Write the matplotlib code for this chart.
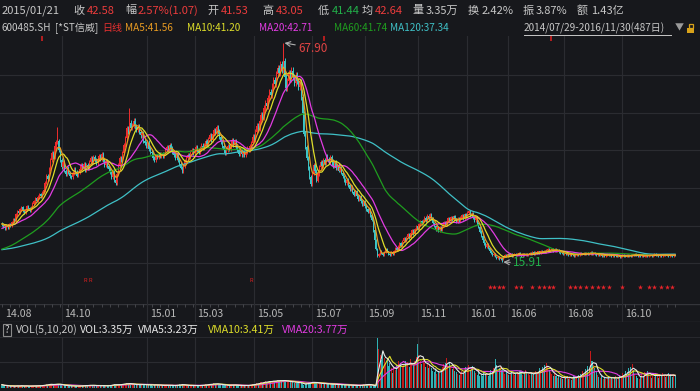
import numpy as np
import pandas as pd
import matplotlib
matplotlib.use("Agg")
import matplotlib.pyplot as plt
from matplotlib.path import Path
from matplotlib.patches import Rectangle
from matplotlib.lines import Line2D

plt.rcParams['font.family'] = ['Noto Sans CJK SC', 'DejaVu Sans']

# ---- data (600485 daily, 2014/07/29 - 2016/11/30, 487 bars) ----
# closes of the 120 days before the first bar, only used to seed the MAs
pre_close = [
    18.5, 18.8, 18.6, 19.0, 18.7, 18.9, 19.2, 18.8, 18.6, 18.4,
    18.7, 18.9, 19.1, 18.8, 18.5, 18.3, 18.6, 18.9, 19.3, 19.0,
    18.7, 18.4, 18.6, 18.8, 19.1, 18.9, 18.6, 18.8, 19.0, 18.7,
    18.5, 18.8, 18.6, 18.4, 18.7, 18.9, 18.6, 18.5, 18.8, 18.6,
    18.4, 18.7, 18.9, 18.6, 18.8, 18.5, 18.7, 18.9, 18.6, 18.4,
    18.6, 18.8, 18.5, 18.7, 18.9, 18.6, 18.8, 18.5, 18.7, 18.6,
    18.2, 17.8, 17.4, 17.0, 16.7, 16.4, 16.1, 15.9, 15.7, 15.8,
    15.6, 15.9, 16.1, 15.8, 15.6, 15.9, 16.2, 16.0, 15.8, 16.1,
    16.3, 16.0, 15.8, 16.1, 16.4, 16.2, 16.0, 16.3, 16.5, 16.2,
    16.4, 16.7, 16.5, 16.8, 17.1, 16.9, 17.2, 17.6, 17.9, 18.3,
    19.5, 20.2, 21.0, 21.8, 22.3, 22.9, 23.2, 23.8, 24.1, 24.5,
    24.2, 24.8, 25.1, 24.6, 25.0, 25.3, 24.9, 25.2, 24.7, 25.0,
]

close = [
    24.8, 24.2, 23.9, 24.5, 24.1, 24.9, 24.6, 25.4, 26.1, 25.8,
    27.2, 28.0, 27.5, 28.4, 28.9, 28.1, 27.6, 28.3, 29.1, 28.6,
    28.0, 28.8, 29.7, 30.3, 31.0, 30.4, 31.3, 32.0, 31.5, 32.3,
    33.0, 34.7, 36.3, 35.6, 38.0, 40.1, 41.7, 40.8, 43.3, 44.4,
    44.6, 42.5, 40.1, 38.4, 39.5, 37.6, 36.8, 38.2, 37.1, 36.2,
    36.1, 37.0, 37.9, 37.3, 36.4, 37.1, 38.0, 38.9, 38.3, 39.2,
    37.6, 38.8, 38.1, 39.7, 40.5, 39.6, 40.9, 40.1, 39.3, 40.4,
    41.1, 40.3, 41.4, 40.2, 39.0, 39.8, 38.7, 37.9, 37.1, 36.0,
    37.2, 35.4, 34.6, 36.8, 38.9, 40.6, 40.2, 41.8, 43.6, 45.3,
    47.6, 46.8, 48.9, 47.7, 48.3, 49.4, 48.1, 47.2, 48.0, 46.8,
    45.9, 46.4, 44.7, 44.1, 43.5, 44.2, 42.8, 42.1, 41.7, 40.6,
    40.2, 41.1, 40.9, 41.4, 41.0, 41.6, 41.11, 41.51, 42.58, 43.1,
    42.4, 43.6, 42.8, 42.0, 41.3, 40.6, 41.5, 40.2, 39.1, 38.3,
    37.5, 38.6, 39.8, 40.5, 41.3, 40.7, 41.9, 42.4, 41.8, 42.6,
    43.1, 42.5, 41.9, 42.8, 43.5, 42.9, 43.7, 44.6, 43.8, 45.1,
    45.9, 44.8, 46.3, 47.2, 46.5, 47.8, 46.9, 45.6, 44.3, 43.5,
    42.4, 41.8, 42.6, 43.4, 42.7, 43.9, 44.8, 43.6, 44.5, 43.2,
    42.5, 41.6, 42.3, 41.4, 42.0, 41.2, 42.1, 43.0, 42.4, 43.3,
    44.1, 45.6, 45.0, 46.8, 48.2, 47.5, 49.3, 50.8, 50.1, 52.4,
    53.6, 52.8, 54.9, 56.3, 55.4, 57.6, 59.1, 58.2, 60.4, 61.8,
    60.7, 62.9, 61.5, 63.6, 59.8, 57.2, 58.9, 60.6, 59.4, 61.3,
    59.7, 58.3, 60.2, 58.9, 57.4, 58.6, 55.0, 51.2, 46.3, 43.1,
    40.6, 38.2, 36.0, 34.4, 36.9, 38.8, 37.5, 35.2, 36.8, 38.5,
    39.6, 38.7, 40.2, 39.4, 41.1, 40.3, 39.5, 40.8, 39.9, 38.7,
    39.5, 38.2, 38.9, 37.6, 38.3, 37.1, 36.2, 35.4, 34.6, 35.3,
    34.1, 33.2, 33.8, 32.6, 31.9, 32.7, 31.5, 30.8, 31.4, 30.3,
    29.6, 30.2, 29.1, 28.4, 27.8, 28.3, 27.0, 25.9, 23.4, 21.1,
    19.0, 17.4, 17.9, 18.6, 18.1, 17.6, 18.2, 18.9, 18.4, 17.9,
    17.6, 18.3, 17.9, 18.5, 19.2, 18.7, 19.6, 20.4, 19.8, 20.9,
    21.6, 20.8, 21.9, 22.5, 21.7, 22.8, 23.4, 22.6, 23.8, 24.5,
    23.7, 24.8, 25.6, 24.9, 25.8, 26.4, 25.7, 26.9, 26.2, 27.1,
    26.3, 25.2, 24.5, 23.6, 24.2, 23.4, 24.1, 23.5, 24.6, 25.3,
    24.8, 25.7, 26.3, 25.6, 26.5, 25.9, 26.8, 26.1, 25.4, 26.2,
    25.6, 26.4, 27.0, 26.3, 27.3, 26.6, 27.6, 27.9, 26.8, 27.4,
    26.5, 25.8, 26.4, 25.1, 24.2, 23.1, 22.0, 21.2, 20.3, 19.5,
    20.1, 19.2, 18.6, 18.1, 17.5, 17.9, 17.2, 16.8, 17.1, 16.6,
    16.9, 16.5, 17.2, 17.6, 17.3, 17.9, 17.5, 17.8, 17.4, 17.7,
    17.9, 17.5, 17.8, 18.1, 17.7, 17.4, 17.8, 17.6, 17.9, 17.5,
    17.7, 18.0, 17.8, 18.2, 17.9, 18.3, 18.0, 18.4, 18.1, 18.5,
    18.2, 18.6, 18.3, 18.7, 18.9, 18.5, 18.8, 19.0, 18.6, 18.9,
    18.5, 18.7, 18.3, 18.0, 18.2, 17.8, 18.1, 17.7, 17.9, 17.6,
    17.8, 17.5, 17.7, 17.4, 17.6, 17.9, 17.6, 18.0, 17.7, 17.9,
    18.1, 17.8, 18.0, 17.7, 17.9, 18.2, 17.9, 18.1, 17.8, 17.6,
    17.8, 17.5, 17.7, 17.4, 17.6, 17.3, 17.5, 17.8, 17.5, 17.7,
    17.4, 17.6, 17.3, 17.5, 17.2, 17.4, 17.1, 17.3, 17.6, 17.4,
    17.2, 17.5, 17.3, 17.6, 17.4, 17.7, 17.5, 17.8, 17.6, 17.4,
    17.6, 17.3, 17.5, 17.2, 17.4, 17.6, 17.3, 17.5, 17.7, 17.4,
    17.6, 17.8, 17.5, 17.7, 17.4, 17.6, 17.3, 17.5, 17.7, 17.5,
    17.6, 17.4, 17.7, 17.5, 17.3, 17.6, 17.5,
]

# volume in 万
volume = [
    4.2, 3.1, 2.6, 2.9, 2.2, 2.5, 1.9, 2.4, 2.8, 2.1,
    2.6, 3.0, 2.3, 2.7, 3.2, 2.4, 2.0, 2.5, 2.9, 2.2,
    1.8, 2.3, 2.7, 3.1, 2.6, 2.2, 2.9, 3.4, 2.8, 3.2,
    3.6, 4.1, 4.8, 3.9, 4.5, 5.2, 4.6, 3.8, 4.4, 5.0,
    5.6, 4.7, 3.9, 3.4, 3.0, 3.5, 2.8, 3.2, 2.6, 2.3,
    2.1, 2.5, 2.8, 2.4, 2.0, 2.3, 2.7, 3.1, 2.6, 2.9,
    3.2, 3.6, 2.9, 3.4, 3.8, 3.1, 3.5, 2.8, 2.6, 3.0,
    3.3, 2.7, 3.1, 2.6, 2.9, 2.4, 2.8, 3.2, 3.5, 3.9,
    4.3, 4.8, 4.1, 3.6, 3.9, 4.4, 4.9, 5.3, 4.7, 5.6,
    6.1, 5.2, 5.8, 4.9, 4.4, 4.8, 4.1, 3.7, 4.2, 4.5,
    4.2, 4.6, 4.0, 4.3, 3.8, 4.1, 3.6, 3.9, 4.3, 3.0,
    3.8, 4.1, 3.6, 3.45, 3.1, 3.5, 2.9, 3.3, 3.35, 3.6,
    3.2, 2.9, 3.4, 3.1, 2.7, 3.0, 3.5, 3.9, 4.4, 4.1,
    4.6, 3.8, 3.4, 3.1, 2.8, 3.2, 2.9, 3.3, 2.7, 3.0,
    3.4, 3.1, 2.8, 3.2, 3.6, 3.3, 3.9, 4.4, 3.8, 4.7,
    5.3, 4.6, 5.1, 5.8, 4.9, 5.5, 4.7, 4.2, 4.6, 3.9,
    3.6, 3.3, 3.0, 3.4, 3.1, 3.7, 4.0, 3.5, 3.8, 3.2,
    3.0, 3.4, 2.9, 3.1, 2.7, 3.0, 3.3, 3.6, 3.2, 3.5,
    4.2, 4.8, 4.4, 5.3, 6.0, 5.4, 6.3, 7.1, 6.5, 7.6,
    8.2, 7.4, 8.0, 8.8, 7.9, 8.5, 9.3, 8.4, 9.0, 9.8,
    8.9, 9.5, 8.6, 10.4, 9.2, 8.5, 7.8, 8.3, 7.6, 8.1,
    7.4, 6.8, 7.2, 6.5, 6.9, 6.2, 5.8, 4.6, 3.9, 4.8,
    6.4, 7.2, 6.6, 5.9, 8.1, 7.5, 6.8, 6.1, 5.6, 6.3,
    5.8, 5.2, 5.7, 5.0, 5.4, 4.8, 5.1, 4.6, 4.9, 4.4,
    4.7, 4.2, 4.5, 4.0, 4.3, 3.8, 4.1, 3.6, 3.9, 3.4,
    3.7, 3.3, 3.6, 3.1, 3.4, 3.0, 3.3, 2.9, 3.2, 3.5,
    4.1, 4.6, 3.9, 4.4, 5.0, 4.3, 3.6, 2.8, 2.2, 1.9,
    2.5, 62.0, 48.5, 41.2, 35.6, 44.8, 38.1, 31.5, 36.2, 27.4,
    30.8, 24.6, 19.3, 26.1, 22.4, 28.7, 33.5, 27.2, 31.6, 25.8,
    29.4, 34.2, 27.6, 31.9, 26.3, 35.8, 30.2, 28.4, 33.7, 38.5,
    54.6, 41.3, 33.8, 29.5, 36.2, 31.4, 26.8, 30.5, 24.9, 28.3,
    25.1, 21.7, 19.4, 23.2, 17.6, 20.8, 18.3, 22.5, 26.4, 29.7,
    31.2, 37.4, 28.6, 33.1, 27.5, 24.2, 26.9, 21.8, 19.6, 17.2,
    15.8, 18.4, 21.3, 19.1, 23.6, 26.8, 24.1, 28.5, 22.7, 25.9,
    27.3, 21.5, 18.2, 16.4, 19.7, 15.3, 17.8, 14.6, 20.2, 16.9,
    18.5, 15.2, 17.4, 22.8, 19.6, 25.3, 36.8, 28.4, 21.7, 24.5,
    26.3, 22.1, 19.4, 17.6, 20.3, 18.1, 16.5, 19.2, 21.6, 17.8,
    15.9, 18.7, 20.4, 17.3, 21.5, 19.8, 16.2, 18.6, 22.3, 20.1,
    17.5, 15.8, 19.3, 16.6, 18.9, 21.2, 17.4, 20.6, 24.8, 22.3,
    26.1, 23.5, 28.9, 31.4, 25.7, 22.6, 19.8, 17.3, 15.6, 18.2,
    14.5, 12.8, 16.3, 11.9, 13.6, 10.8, 14.2, 12.5, 15.4, 11.3,
    13.7, 10.5, 12.9, 15.6, 11.8, 14.3, 16.7, 13.2, 17.9, 21.4,
    18.6, 24.3, 19.8, 27.5, 22.1, 45.8, 33.6, 29.2, 24.7, 19.5,
    16.8, 14.2, 12.6, 15.1, 11.4, 13.8, 10.9, 12.7, 15.3, 11.6,
    13.9, 10.7, 12.4, 14.8, 11.2, 13.5, 16.2, 12.9, 18.4, 15.7,
    21.3, 17.6, 24.5, 19.8, 26.2, 30.6, 22.4, 17.9, 14.6, 12.3,
    11.8, 14.5, 17.2, 13.6, 19.8, 16.4, 21.5, 18.2, 15.6, 13.1,
    16.9, 14.3, 18.6, 15.2, 12.7, 17.4, 14.8, 19.3, 16.1, 13.5,
    15.8, 18.4, 14.6, 17.2, 13.9, 16.5, 15.1,
]

# bars whose open/high/low were read exactly (index: open, high, low)
known_bars = {118: (41.53, 43.05, 41.44)}
wick_highs = {40: 48.0, 92: 52.5, 203: 67.90}
wick_lows = {361: 15.91}
peak_idx, low_idx = 203, 361

# month labels and the bar index where each starts
month_labels = ['14.08', '14.10', '15.01', '15.03', '15.05', '15.07',
                '15.09', '15.11', '16.01', '16.06', '16.08', '16.10']
month_idx = [0, 43, 105, 139, 182, 224, 262, 300, 336, 365, 406, 448]

info_idx = [27, 230, 394]          # red corner flags at the top
r_idx = [60, 64, 180]              # "R" marks
star_idx = [352, 355, 359, 362, 371, 375, 383, 388, 391, 395, 398, 410, 414,
            417, 422, 426, 430, 434, 438, 448, 461, 467, 471, 476, 480, 484]

# ---- style ----
BG = '#17181c'
GRID = '#2b2c31'
UP = '#ee2d2d'
DOWN = '#3cc6c8'
VUP = '#c41a1a'
VDOWN = '#2fb2b4'
TXT = '#c8c8c8'
RED = '#ec3c3c'
GREEN = '#22b04a'
C_MA5, C_MA10, C_MA20, C_MA60, C_MA120 = '#e89b22', '#dede2a', '#e23ce2', '#1f9e1f', '#3fc0c6'

W, H = 700, 391
fig = plt.figure(figsize=(W / 100, H / 100), dpi=100, facecolor=BG)


def fx(px):
    return px / W


def fy(py):
    return 1 - py / H


def price_at(py):
    # pixel row -> price on the main panel (linear scale)
    return 67.90 - (py - 42.7) / 4.218


def idx_at(px):
    return (px - 2) / 1.385


close_a = np.array(close)
vol_a = np.array(volume)
n = len(close_a)
assert n == len(vol_a)
idx = np.arange(n)
open_a = np.concatenate([[pre_close[-1]], close_a[:-1]])
high_a = np.maximum(open_a, close_a) * 1.012
low_a = np.minimum(open_a, close_a) * 0.988
for i, (o, h, l) in known_bars.items():
    open_a[i], high_a[i], low_a[i] = o, h, l
for i, h in wick_highs.items():
    high_a[i] = h
for i, l in wick_lows.items():
    low_a[i] = l
up = close_a >= open_a

# ---- main price panel ----
ax = fig.add_axes([0, fy(304), 1, (304 - 36) / H])
ax.set_facecolor(BG)
ax.set_xlim(idx_at(0), idx_at(W))
ax.set_ylim(price_at(304), price_at(36))
ax.axis('off')
for py in [75, 113, 150, 188, 226, 263]:
    ax.axhline(price_at(py), color=GRID, lw=0.8, zorder=0)
for t in month_idx[1:]:
    ax.axvline(t, color=GRID, lw=0.8, zorder=0)

cols = np.where(up, UP, DOWN)
ax.vlines(idx, low_a, high_a, colors=cols, lw=0.7, zorder=2)
ax.bar(idx, np.maximum(np.abs(close_a - open_a), 0.06), bottom=np.minimum(open_a, close_a),
       width=0.75, color=cols, lw=0, zorder=2)

full = pd.Series(pre_close + close)
for win, c in [(120, C_MA120), (60, C_MA60), (20, C_MA20), (10, C_MA10), (5, C_MA5)]:
    ma = full.rolling(win).mean().to_numpy()[len(pre_close):]
    ax.plot(idx, ma, color=c, lw=0.9, zorder=3)

corner = Path([(-1, 1), (1, 1), (1, -1)], [Path.MOVETO, Path.LINETO, Path.LINETO])
ax.plot(info_idx, [price_at(38)] * len(info_idx), ls='none', marker=corner, ms=5,
        mec='#e02020', mfc='none', mew=1.1, zorder=4)
for i in r_idx:
    ax.text(i, price_at(280), 'R', fontsize=4, color='#e02020', ha='center', va='center')
ax.scatter(star_idx, [price_at(287)] * len(star_idx), marker='*', s=14, color='#e8242a',
           lw=0, zorder=4)

ax.annotate('67.90', xy=(peak_idx, 67.90), xytext=(idx_at(298), price_at(48)),
            color='#e04444', fontsize=8.5, va='center', ha='left',
            arrowprops=dict(arrowstyle='->', color='#b0b0b0', lw=0.8, shrinkA=0, shrinkB=1))
ax.annotate('15.91', xy=(low_idx, 15.91), xytext=(idx_at(513), price_at(263)),
            color=GREEN, fontsize=8.5, va='center', ha='left',
            arrowprops=dict(arrowstyle='->', color='#b0b0b0', lw=0.8, shrinkA=0, shrinkB=1))

# ---- date strip ----
axd = fig.add_axes([0, fy(322), 1, 18 / H])
axd.set_facecolor(BG)
axd.set_xlim(ax.get_xlim())
axd.set_ylim(0, 1)
axd.axis('off')
axd.axhline(1, color='#34353a', lw=1)
axd.axhline(0, color='#34353a', lw=1)
axd.vlines(np.arange(0, n, 6), 0.86, 1, color='#4a4b50', lw=0.6)
for t, lab in zip(month_idx, month_labels):
    if t > 0:
        axd.axvline(t, color=GRID, lw=0.8)
    axd.text(t + 2.2, 0.45, lab, color='#b8b8b8', fontsize=7.6, va='center', ha='left')

# ---- volume panel ----
axv = fig.add_axes([0, fy(388), 1, 51 / H])
axv.set_facecolor(BG)
axv.set_xlim(ax.get_xlim())
axv.set_ylim(0, 51 * 1.25)
axv.axis('off')
axv.axhline(51 * 1.25, color=GRID, lw=1.2)
axv.axhline(26 * 1.25, color=GRID, lw=0.8)
for t in month_idx[1:]:
    axv.axvline(t, color=GRID, lw=0.8, zorder=0)
axv.bar(idx, vol_a, width=0.75, color=np.where(up, VUP, VDOWN), lw=0, zorder=2)
vs = pd.Series(volume)
for win, c in [(20, C_MA20), (10, C_MA10), (5, '#e8e8e8')]:
    axv.plot(idx, vs.rolling(win, min_periods=1).mean(), color=c, lw=0.8, zorder=3)

# ---- header texts ----
FS1, FS2 = 8.0, 7.2


def put(x, y, s, color=TXT, fs=FS1):
    fig.text(fx(x), fy(y), s, color=color, fontsize=fs, va='center', ha='left')


row1 = [(2, '2015/01/21', TXT), (73, '收', TXT), (87, '42.58', RED),
        (125, '幅', TXT), (138, '2.57%(1.07)', RED), (207, '开', TXT), (221, '41.53', RED),
        (262, '高', TXT), (276, '43.05', RED), (318, '低', TXT), (332, '41.44', GREEN),
        (362, '均', TXT), (375, '42.64', RED), (412, '量', TXT), (426, '3.35万', TXT),
        (468, '换', TXT), (482, '2.42%', TXT), (523, '振', TXT), (536, '3.87%', TXT),
        (577, '额', TXT), (591, '1.43亿', TXT)]
for x, s, c in row1:
    put(x, 10.5, s, c, FS1)

row2 = [(1, '600485.SH', TXT), (55, '[*ST信威]', TXT), (102, '日线', '#e53030'),
        (125, 'MA5:41.56', C_MA5), (187, 'MA10:41.20', C_MA10),
        (259, 'MA20:42.71', C_MA20), (334, 'MA60:41.74', C_MA60),
        (390, 'MA120:37.34', C_MA120), (524, '2014/07/29-2016/11/30(487日)', TXT)]
for x, s, c in row2:
    put(x, 28, s, c, FS2)
fig.add_artist(Line2D([fx(524), fx(671)], [fy(34.5), fy(34.5)], color=TXT, lw=0.7))
put(675, 28, '▼', '#9a9a9a', 6.5)
gold = '#d8a21a'
fig.add_artist(Rectangle((fx(687), fy(33)), 7 / W, 5 / H, transform=fig.transFigure,
                         color=gold, lw=0))
fig.add_artist(Rectangle((fx(688.5), fy(28)), 4 / W, 4 / H, transform=fig.transFigure,
                         fill=False, ec=gold, lw=0.9))

# volume header
fig.add_artist(Rectangle((fx(3), fy(336)), 8 / W, 12 / H, transform=fig.transFigure,
                         fill=False, ec='#8a8a8a', lw=0.8))
fig.text(fx(7), fy(330), '?', color=TXT, fontsize=7, ha='center', va='center')
vol_hdr = [(16, 'VOL(5,10,20)', TXT), (80, 'VOL:3.35万', '#e8e8e8'),
           (138, 'VMA5:3.23万', '#e8e8e8'), (208, 'VMA10:3.41万', C_MA10),
           (282, 'VMA20:3.77万', C_MA20)]
for x, s, c in vol_hdr:
    put(x, 330, s, c, 7.6)

fig.savefig('out.png', dpi=100, facecolor=BG)
